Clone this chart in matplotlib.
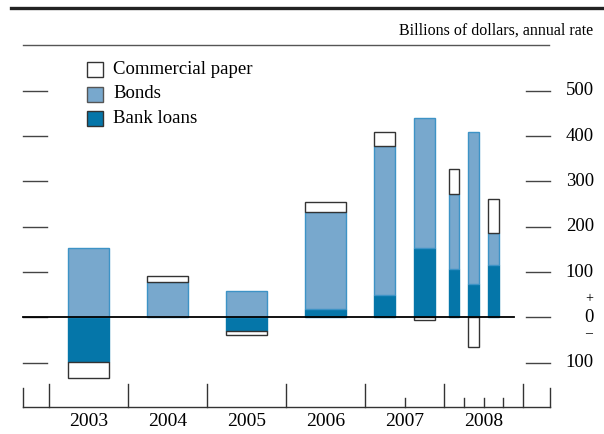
import matplotlib
matplotlib.use('Agg')
import matplotlib.pyplot as plt
from matplotlib.patches import Rectangle
from matplotlib.lines import Line2D

plt.rcParams['font.family'] = ['Liberation Serif', 'DejaVu Serif']

# Datos (miles de millones de dólares, tasa anual)
period_start = [2003, 2004, 2005, 2006, 2007.0, 2007.5, 2008.0, 2008.25, 2008.5]
period_len = [1, 1, 1, 1, 0.5, 0.5, 0.25, 0.25, 0.25]
bank_loans = [-98, 0, -30, 18, 49, 153, 107, 73, 115]
bonds = [153, 77, 57, 214, 330, 287, 165, 336, 72]
commercial_paper = [-37, 14, -9, 23, 30, -7, 55, -65, 75]
years = [2003, 2004, 2005, 2006, 2007, 2008]
yticks = [-100, 100, 200, 300, 400, 500]

c_bonds = '#78a8cd'
c_bonds_edge = '#3d93c6'
c_loans = '#0576a9'
c_cp_edge = '#333333'

W, H = 604, 434
fig = plt.figure(figsize=(W / 100, H / 100), dpi=100)

def fx(px):
    return px / W

def fy(py):
    return 1 - py / H

ax = fig.add_axes([fx(23), fy(407), fx(550) - fx(23), fy(60) - fy(407)])
x0, x1 = 2003 - 26 / 79, 2003 + 501 / 79
y0, y1 = -198, 568
ax.set_xlim(x0, x1)
ax.set_ylim(y0, y1)
ax.axis('off')

ppu_y = 0.453  # pixeles por unidad

# barras apiladas (positivas hacia arriba, negativas hacia abajo)
pos_base = [0.0] * len(bonds)
neg_base = [0.0] * len(bonds)
series = [(bank_loans, c_loans, c_loans), (bonds, c_bonds, c_bonds_edge),
          (commercial_paper, 'white', c_cp_edge)]
for vals, fc, ec in series:
    for i, v in enumerate(vals):
        if v == 0:
            continue
        center = period_start[i] + period_len[i] / 2
        width = 0.52 * period_len[i]
        if v > 0:
            b = pos_base[i]
            pos_base[i] += v
        else:
            b = neg_base[i]
            neg_base[i] += v
        ax.bar(center, v, width=width, bottom=b, color=fc, edgecolor=ec,
               linewidth=1.0, zorder=2)

# línea del cero
ax.plot([x0, 2003 + 465 / 79], [0, 0], color='black', lw=1.3, zorder=3, clip_on=False)

# marcas del eje y (izquierda y derecha) con etiquetas
for t in yticks + [0]:
    ax.plot([x0, 2003 - 2 / 79], [t, t], color='#444444', lw=1.0, clip_on=False)
    ax.plot([2003 + 477 / 79, x1], [t, t], color='#444444', lw=1.0, clip_on=False)
for t in yticks:
    ax.text(2003 + 545 / 79, t, str(abs(t)), ha='right', va='center', fontsize=13.5)
ax.text(2003 + 545 / 79, 0, '0', ha='right', va='center', fontsize=13.5)
ax.text(2003 + 540 / 79, 18.5 / ppu_y, '+', ha='center', va='center', fontsize=10)
ax.text(2003 + 540 / 79, -16 / ppu_y, '\u2013', ha='center', va='center', fontsize=10)

# eje x
ax.plot([x0, x1], [y0, y0], color='#333333', lw=1.0, clip_on=False)
major = years + [2009]
for xm in major:
    ax.plot([xm, xm], [y0, y0 + 23 / ppu_y], color='#333333', lw=1.0, clip_on=False)
for xe in [x0, x1]:
    ax.plot([xe, xe], [y0, y0 + 19 / ppu_y], color='#333333', lw=1.0, clip_on=False)
for xm in [2007.5, 2008.25, 2008.5, 2008.75]:
    ax.plot([xm, xm], [y0, y0 + 9 / ppu_y], color='#333333', lw=1.0, clip_on=False)
for yr in years:
    ax.text(yr + 0.5, y0 - 14 / ppu_y, str(yr), ha='center', va='center', fontsize=14)

# título y líneas superiores
fig.add_artist(Line2D([fx(11), 1], [fy(8), fy(8)], color='#222222', lw=2.4))
fig.add_artist(Line2D([fx(23), fx(549)], [fy(45), fy(45)], color='#555555', lw=1.0))
fig.text(fx(593), fy(31), 'Billions of dollars, annual rate', ha='right', va='center',
         fontsize=11.5)

# leyenda
legend_items = [('Commercial paper', 'white', c_cp_edge),
                ('Bonds', c_bonds, '#555555'),
                ('Bank loans', c_loans, '#333333')]
for k, (lab, fc, ec) in enumerate(legend_items):
    ytop = 62 + 24.5 * k
    fig.add_artist(Rectangle((fx(87), fy(ytop + 15)), fx(16), fy(ytop) - fy(ytop + 15),
                             facecolor=fc, edgecolor=ec, lw=1.0))
    fig.text(fx(113), fy(ytop + 7.5), lab, ha='left', va='center', fontsize=13.5)

fig.savefig('out.png', dpi=100)
